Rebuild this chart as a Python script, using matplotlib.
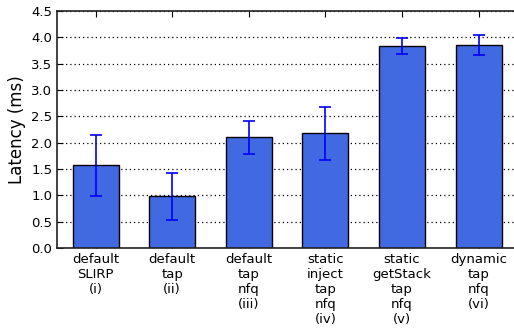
import matplotlib
matplotlib.use('Agg')
import matplotlib.pyplot as plt
import numpy as np

# Data
labels = ['default\nSLIRP\n(i)', 'default\ntap\n(ii)', 'default\ntap\nnfq\n(iii)',
          'static\ninject\ntap\nnfq\n(iv)', 'static\ngetStack\ntap\nnfq\n(v)',
          'dynamic\ntap\nnfq\n(vi)']
latency = [1.57, 0.98, 2.10, 2.18, 3.83, 3.86]
errors = [0.58, 0.44, 0.31, 0.50, 0.15, 0.19]

fig = plt.figure(figsize=(5.14, 3.35), dpi=100)
ax = fig.add_axes([0.1115, 0.2597, 0.894, 0.7075])

x = np.arange(len(labels))
ax.bar(x, latency, width=0.6, color='royalblue', edgecolor='black', linewidth=1,
       yerr=errors, ecolor='blue', capsize=4, error_kw={'elinewidth': 1.2, 'capthick': 1.2},
       zorder=2)

ax.set_xlim(-0.5, 5.5)
ax.set_ylim(0, 4.5)
ax.set_yticks(np.arange(0, 4.51, 0.5))
ax.set_xticks(x)
ax.set_xticklabels(labels, fontsize=9.5)
ax.tick_params(axis='y', labelsize=9.5)
ax.tick_params(direction='in', top=True, right=False, length=4)
ax.set_ylabel('Latency (ms)', fontsize=12)
ax.yaxis.grid(True, linestyle=(0, (1, 2.4)), color='black', linewidth=0.9, zorder=0)
ax.set_axisbelow(True)
for s in ax.spines.values():
    s.set_linewidth(1.2)
    s.set_color('#222222')
ax.spines['right'].set_visible(False)

fig.savefig('out.png', dpi=100)
